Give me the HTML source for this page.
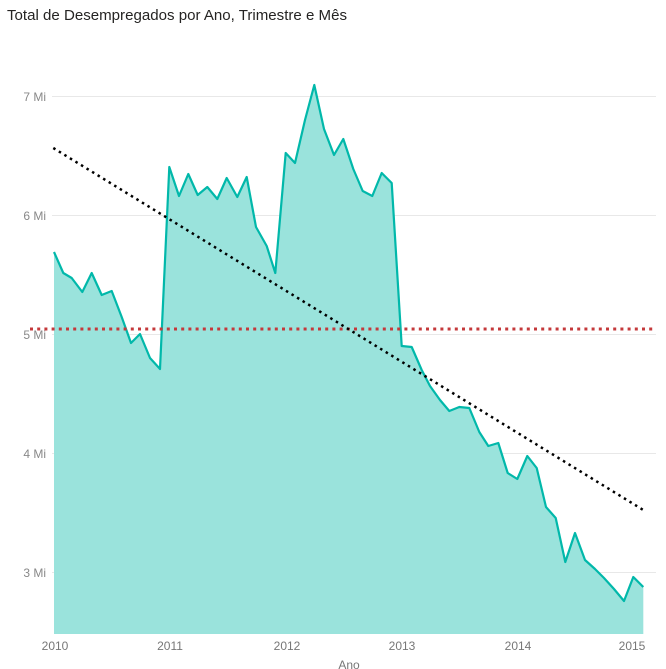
<!DOCTYPE html>
<html><head><meta charset="utf-8"><style>
html,body{margin:0;padding:0;background:#fff;width:666px;height:669px;overflow:hidden}
svg{display:block;font-family:"Liberation Sans","DejaVu Sans",sans-serif}
</style></head><body>
<svg width="666" height="669" viewBox="0 0 666 669">
<text x="7" y="20" font-size="15" fill="#252423" textLength="340" lengthAdjust="spacingAndGlyphs">Total de Desempregados por Ano, Trimestre e Mês</text>
<g stroke="#e8e8e8" stroke-width="1">
<line x1="52" x2="656" y1="96.5" y2="96.5"/><line x1="52" x2="656" y1="215.5" y2="215.5"/>
<line x1="52" x2="656" y1="334.5" y2="334.5"/><line x1="52" x2="656" y1="453.5" y2="453.5"/>
<line x1="52" x2="656" y1="572.5" y2="572.5"/></g>
<g font-size="12" fill="#888" text-anchor="end">
<text x="46" y="101">7 Mi</text><text x="46" y="220">6 Mi</text><text x="46" y="339">5 Mi</text>
<text x="46" y="458">4 Mi</text><text x="46" y="577">3 Mi</text></g>
<g font-size="12" fill="#777" text-anchor="middle">
<text x="55" y="650">2010</text><text x="170" y="650">2011</text><text x="287" y="650">2012</text>
<text x="402" y="650">2013</text><text x="518" y="650">2014</text><text x="632" y="650">2015</text>
<text x="349" y="669">Ano</text></g>
<polygon fill="#9ae3dc" points="54,634 54,252 63.3,273 71.7,278 82.3,292 91.7,273 101.7,295 111.7,291 121.7,317 131,343 140,334 150,358 160,369 169.3,167 179,196 188.3,174 197.7,195 207.3,187 217.3,199 226.7,178 237.3,197 246.7,177 256,227 266.7,246 275.3,273 285.7,153 295,163 305,120 314.3,85 324,129 334,155 343.3,139 353.3,169 362.7,191 372.3,196 381.7,173 391.7,183 401.7,346 411.7,347 421.7,370 430,386 440,400 449.3,411 459.3,407 469.3,408 479.3,432 488.3,446 498.3,443 507.7,473 517.3,479 527.3,456 536.7,468 546,507 555.7,518 565.3,562 575,533 585,560 595,569 604,578 614,589 624,601 633.3,577 643.3,587 643.3,634"/>
<polyline fill="none" stroke="#01b8aa" stroke-width="2.2" stroke-linejoin="round" points="54,252 63.3,273 71.7,278 82.3,292 91.7,273 101.7,295 111.7,291 121.7,317 131,343 140,334 150,358 160,369 169.3,167 179,196 188.3,174 197.7,195 207.3,187 217.3,199 226.7,178 237.3,197 246.7,177 256,227 266.7,246 275.3,273 285.7,153 295,163 305,120 314.3,85 324,129 334,155 343.3,139 353.3,169 362.7,191 372.3,196 381.7,173 391.7,183 401.7,346 411.7,347 421.7,370 430,386 440,400 449.3,411 459.3,407 469.3,408 479.3,432 488.3,446 498.3,443 507.7,473 517.3,479 527.3,456 536.7,468 546,507 555.7,518 565.3,562 575,533 585,560 595,569 604,578 614,589 624,601 633.3,577 643.3,587"/>
<line x1="30" x2="656" y1="329" y2="329" stroke="#c4393b" stroke-width="3" stroke-dasharray="3 4.2"/>
<line x1="53.3" y1="148" x2="643.3" y2="510" stroke="#000" stroke-width="2.5" stroke-dasharray="2.5 4"/>
</svg>
</body></html>
